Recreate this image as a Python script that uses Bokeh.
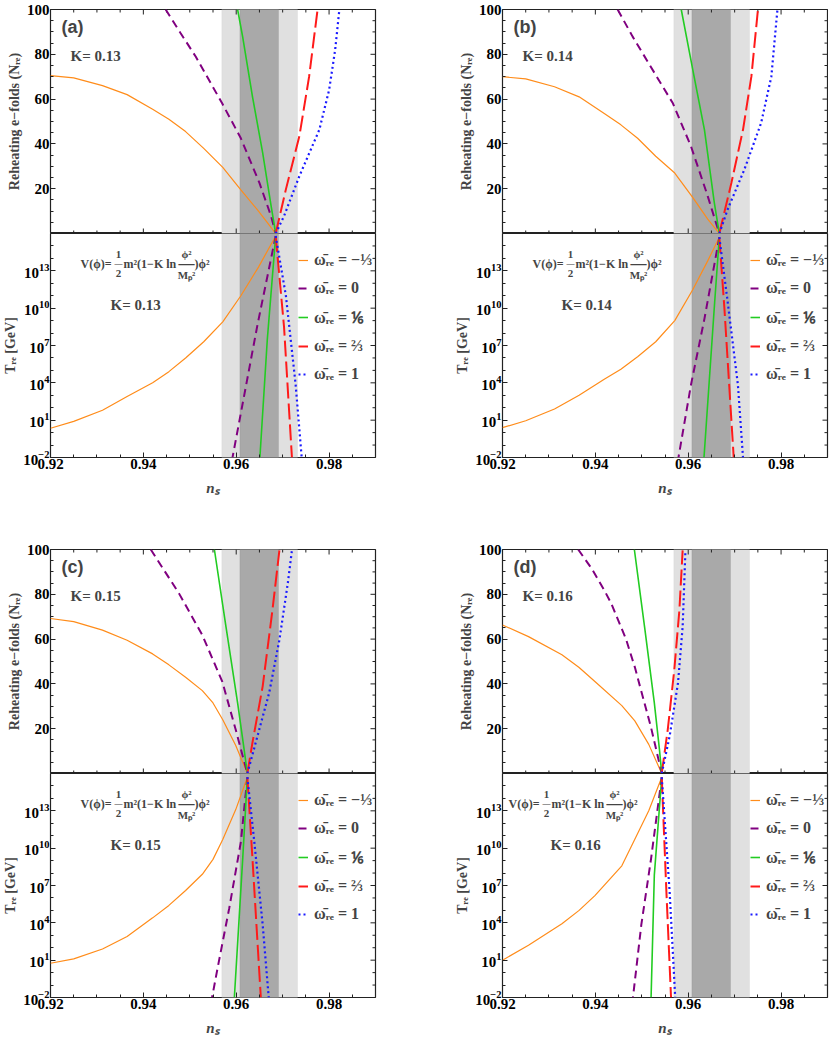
import math
import numpy as np
from bokeh.plotting import figure
from bokeh.layouts import gridplot
from bokeh.models import Range1d, FixedTicker, BoxAnnotation, Label, Legend, LegendItem
from bokeh.embed import file_html
from bokeh.resources import INLINE

# ---------------- data ----------------
NS_RANGE = (0.92, 0.99)
NRE_RANGE = (0, 100)
TRE_RANGE = (1e-2, 1e16)
NS_TICKS = [0.92, 0.94, 0.96, 0.98]
NS_MINOR = [0.925, 0.93, 0.935, 0.945, 0.95, 0.955, 0.965, 0.97, 0.975, 0.985]
NRE_TICKS = [20, 40, 60, 80, 100]
NRE_MINOR = [5, 10, 15, 25, 30, 35, 45, 50, 55, 65, 70, 75, 85, 90, 95]
TRE_TICK_EXP = [-2, 1, 4, 7, 10, 13]
TRE_MINOR_EXP = [-1, 0, 2, 3, 5, 6, 8, 9, 11, 12, 14, 15]

PLANCK_1SIGMA = (0.9608, 0.9691)
PLANCK_2SIGMA = (0.9569, 0.9732)

PANEL_TAGS = ["(a)", "(b)", "(c)", "(d)"]
K_VALUES = ["0.13", "0.14", "0.15", "0.16"]

W_LABELS = ["ω̄ᵣₑ = −⅓", "ω̄ᵣₑ = 0", "ω̄ᵣₑ = ⅙", "ω̄ᵣₑ = ⅔", "ω̄ᵣₑ = 1"]

# N_re(n_s) per panel: (n_s list, N_re list) for w = -1/3, 0, 1/6, 2/3, 1
A_NRE = [
    ([0.92, 0.925, 0.9312, 0.9365, 0.942, 0.9455, 0.9491, 0.953, 0.9571, 0.961, 0.9648, 0.9685],
     [70.5, 69.5, 66.0, 62.0, 55.5, 51.0, 45.5, 38.0, 29.5, 19.5, 10.0, 0]),
    ([0.9448, 0.948, 0.9513, 0.957, 0.961, 0.965, 0.9675, 0.9685], [100, 89.5, 78.9, 58.0, 42.5, 22.6, 7.8, 0]),
    ([0.9603, 0.9614, 0.9635, 0.9657, 0.9674, 0.9685], [100, 87.7, 61.1, 36.0, 13.8, 0]),
    ([0.9685, 0.9707, 0.9736, 0.9757, 0.9775], [0, 19.7, 43.4, 70.0, 99.6]),
    ([0.9685, 0.9703, 0.9736, 0.9779, 0.9800, 0.9813, 0.9822], [0, 7.8, 25.6, 46.3, 64.0, 81.8, 99.6]),
]
B_NRE = [
    ([0.92, 0.925, 0.9312, 0.9365, 0.942, 0.9455, 0.9491, 0.953, 0.9571, 0.961, 0.9642, 0.9667],
     [70.0, 69.0, 65.5, 61.0, 53.5, 48.5, 42.5, 34.5, 27.0, 16.0, 6.4, 0]),
    ([0.9448, 0.948, 0.9513, 0.9567, 0.9606, 0.9642, 0.9667], [100, 88.0, 76.6, 58.1, 38.9, 16.7, 0]),
    ([0.9585, 0.961, 0.9635, 0.9656, 0.9667], [100, 72.9, 46.3, 14.0, 0]),
    ([0.9667, 0.9693, 0.9718, 0.9736, 0.975], [0, 22.6, 46.3, 70.0, 99.6]),
    ([0.9667, 0.9685, 0.9721, 0.9757, 0.9779, 0.9792], [0, 10.8, 28.6, 49.3, 70.0, 99.6]),
]
C_NRE = [
    ([0.92, 0.925, 0.9312, 0.9365, 0.942, 0.9455, 0.9491, 0.9527, 0.955, 0.9571, 0.9599, 0.9624],
     [69.2, 67.8, 64.0, 59.5, 53.4, 48.5, 43.0, 37.0, 31.5, 24.0, 12.5, 0]),
    ([0.9416, 0.9477, 0.9527, 0.957, 0.9599, 0.9624], [100, 80.3, 61.8, 41.0, 19.5, 0]),
    ([0.9553, 0.9578, 0.9603, 0.9617, 0.9624], [100, 65.5, 31.5, 10.8, 0]),
    ([0.9624, 0.9635, 0.9657, 0.9678, 0.9693], [0, 13.8, 38.9, 72.9, 99.6]),
    ([0.9624, 0.9642, 0.9671, 0.9693, 0.9711, 0.972], [0, 13.8, 36.0, 59.6, 84.8, 99.6]),
]
D_NRE = [
    ([0.92, 0.9256, 0.9328, 0.9365, 0.9399, 0.9457, 0.9485, 0.9515, 0.9543],
     [66.3, 61.1, 53.0, 47.3, 41.1, 30.3, 23.5, 13.0, 0]),
    ([0.9363, 0.9392, 0.942, 0.9434, 0.9466, 0.9485, 0.952, 0.9543], [100, 91.5, 81.5, 76.0, 60.0, 47.5, 20.5, 0]),
    ([0.9484, 0.9506, 0.9527, 0.9538, 0.9543], [100, 65.5, 31.5, 10.8, 0]),
    ([0.9543, 0.9556, 0.957, 0.9581, 0.9588], [0, 19.7, 46.3, 72.9, 99.6]),
    ([0.9543, 0.956, 0.9578, 0.9588, 0.9594], [0, 16.7, 40.4, 65.5, 99.6]),
]

# log10 T_re(n_s) per panel: (n_s list, log10 T list)
A_TRE = [
    ([0.92, 0.925, 0.9312, 0.9365, 0.942, 0.9455, 0.9491, 0.953, 0.9571, 0.961, 0.9648, 0.9685],
     [0.35, 0.9, 1.8, 2.9, 4.0, 4.9, 6.0, 7.3, 8.9, 11.0, 13.3, 15.8]),
    ([0.9685, 0.9646, 0.9592], [15.8, 8.7, -2]),
    ([0.9685, 0.9667, 0.9651], [15.8, 7.5, -2]),
    ([0.9685, 0.9703, 0.972], [15.8, 8.5, -2]),
    ([0.9685, 0.9707, 0.9728, 0.9741], [15.8, 11.0, 3.85, -2]),
]
B_TRE = [
    ([0.92, 0.925, 0.9312, 0.9365, 0.942, 0.9455, 0.9491, 0.953, 0.9571, 0.961, 0.9642, 0.9667],
     [0.4, 0.95, 1.9, 3.0, 4.3, 5.1, 6.1, 7.3, 9.0, 11.5, 13.8, 15.7]),
    ([0.9667, 0.9635, 0.9606, 0.9579], [15.7, 9.16, 3.85, -2]),
    ([0.9667, 0.9657, 0.9634], [15.7, 10.5, -2]),
    ([0.9667, 0.9678, 0.9698], [15.7, 9.96, -2]),
    ([0.9667, 0.9685, 0.9707, 0.9718], [15.7, 10.5, 3.85, -2]),
]
C_TRE = [
    ([0.92, 0.925, 0.9312, 0.9365, 0.942, 0.9455, 0.9491, 0.9527, 0.955, 0.9571, 0.9599, 0.9624],
     [0.75, 1.1, 1.9, 2.9, 4.4, 5.4, 6.6, 7.9, 9.1, 10.7, 13.1, 15.7]),
    ([0.9624, 0.961, 0.9585, 0.956, 0.9548], [15.7, 10.5, 5.18, 0.39, -2]),
    ([0.9624, 0.9614, 0.9596], [15.7, 9.16, -2]),
    ([0.9624, 0.9635, 0.9653], [15.7, 9.16, -2]),
    ([0.9624, 0.9639, 0.9657, 0.967], [15.7, 10.5, 3.85, -2]),
]
D_TRE = [
    ([0.92, 0.9256, 0.9328, 0.9365, 0.9399, 0.9457, 0.9485, 0.9515, 0.9543],
     [1.0, 2.2, 3.93, 5.0, 6.19, 8.58, 10.71, 13.0, 15.7]),
    ([0.9543, 0.952, 0.9499, 0.9481], [15.7, 9.16, 3.85, -2]),
    ([0.9543, 0.9527, 0.952], [15.7, 7.83, -2]),
    ([0.9543, 0.9553, 0.9563], [15.7, 6.5, -2]),
    ([0.9543, 0.956, 0.9572], [15.7, 6.5, -2]),
]

# ---------------- styles ----------------
W_COLORS = ["#ff8c1a", "#800080", "#22cc22", "#ff1a1a", "#1a1aff"]
W_DASH = ["solid", "8 5", "solid", "16 5", "2 3"]
W_WIDTH = [1.2, 2.0, 1.6, 2.0, 2.2]
SERIF = "Liberation Serif"
SANS = "Liberation Sans"
FW, FH = 325, 224
OUT = "#222222"
PX_PER_NS = FW / (NS_RANGE[1] - NS_RANGE[0])
FORMULA_DX = [30, 30, 30, 6]
KBOT_DX = [60, 59, 60, 48]


def style_common(p):
    p.grid.visible = False
    p.outline_line_color = OUT
    p.outline_line_width = 1.2
    p.background_fill_color = "white"
    p.border_fill_color = "white"
    for lo, hi, col, edge in [(PLANCK_2SIGMA[0], PLANCK_2SIGMA[1], "#e0e0e0", "#cfcfcf"),
                              (PLANCK_1SIGMA[0], PLANCK_1SIGMA[1], "#a9a9a9", "#8f8f8f")]:
        p.add_layout(BoxAnnotation(left=lo, right=hi, fill_color=col, fill_alpha=1.0,
                                   line_color=edge, line_width=1, level="underlay"))


def axis_style(ax):
    ax.major_tick_in = 5
    ax.major_tick_out = 0
    ax.minor_tick_in = 3
    ax.minor_tick_out = 0
    ax.major_tick_line_color = OUT
    ax.minor_tick_line_color = OUT
    ax.axis_line_color = None
    ax.major_label_text_font = SERIF
    ax.major_label_text_font_style = "bold"
    ax.major_label_text_font_size = "15px"
    ax.major_label_text_color = "black"
    ax.major_label_standoff = 1
    ax.axis_label_text_font = SERIF
    ax.axis_label_text_font_style = "bold"
    ax.axis_label_text_font_size = "14px"
    ax.axis_label_standoff = 2


def mirror_ticks(p, xs, ys, angle, length):
    """inward tick marks on the frame edges without labels (Mathematica-style frame ticks)"""
    p.ray(x=xs, y=ys, length=length, angle=angle, length_units="screen",
          line_color=OUT, line_width=1)


def sx(dx):
    """screen offset from the frame's left edge -> n_s"""
    return NS_RANGE[0] + dx / PX_PER_NS


def make_top(idx, nre, mr, mt):
    p = figure(frame_width=FW, frame_height=FH, x_range=Range1d(*NS_RANGE),
               y_range=Range1d(*NRE_RANGE), output_backend="svg", toolbar_location=None,
               x_axis_location=None,
               min_border_left=42, min_border_right=mr, min_border_top=mt, min_border_bottom=0)
    style_common(p)
    p.yaxis.ticker = FixedTicker(ticks=NRE_TICKS, minor_ticks=NRE_MINOR)
    axis_style(p.yaxis[0])
    p.yaxis.axis_label = "Reheating e−folds (Nᵣₑ)"
    x1 = NS_RANGE[1]
    mirror_ticks(p, [x1] * len(NRE_TICKS), NRE_TICKS, math.pi, 5)
    mirror_ticks(p, [x1] * len(NRE_MINOR), NRE_MINOR, math.pi, 3)
    mirror_ticks(p, NS_TICKS, [NRE_RANGE[1]] * len(NS_TICKS), -math.pi / 2, 5)
    mirror_ticks(p, NS_MINOR, [NRE_RANGE[1]] * len(NS_MINOR), -math.pi / 2, 3)
    mirror_ticks(p, NS_TICKS, [NRE_RANGE[0]] * len(NS_TICKS), math.pi / 2, 5)
    mirror_ticks(p, NS_MINOR, [NRE_RANGE[0]] * len(NS_MINOR), math.pi / 2, 3)
    for (xs, ys), c, d, w in zip(nre, W_COLORS, W_DASH, W_WIDTH):
        p.line(xs, ys, line_color=c, line_dash=d, line_width=w)
    p.add_layout(Label(x=sx(11), y=92, text=PANEL_TAGS[idx], text_font=SANS,
                       text_font_style="bold", text_font_size="18px", text_baseline="middle"))
    p.add_layout(Label(x=sx(20), y=79.2, text="K= " + K_VALUES[idx], text_font=SERIF,
                       text_font_style="bold", text_font_size="15px", text_baseline="middle"))
    return p


def add_formula(p, dx0):
    def lab(dx, ly, t, align="left", size="12px"):
        p.add_layout(Label(x=sx(dx0 + dx), y=10 ** ly, text=t, text_font=SERIF,
                           text_font_style="bold", text_font_size=size,
                           text_align=align, text_baseline="middle"))
    lab(0, 13.55, "V(ϕ)=")
    lab(38, 14.3, "1", "center", "11px")
    lab(38, 13.62, "—", "center", "8px")
    lab(38, 12.75, "2", "center", "11px")
    lab(43, 13.55, "m²(1−K ln")
    lab(106, 14.35, "ϕ²", "center", "11px")
    lab(106, 13.62, "—", "center", "16px")
    lab(106, 12.7, "Mₚ²", "center", "11px")
    lab(114, 13.55, ")ϕ²")


def make_bot(idx, tre, mr, mb):
    p = figure(frame_width=FW, frame_height=FH, x_range=Range1d(*NS_RANGE),
               y_range=Range1d(*TRE_RANGE), y_axis_type="log", output_backend="svg",
               toolbar_location=None, min_border_left=42, min_border_right=mr,
               min_border_top=0, min_border_bottom=mb)
    style_common(p)
    p.xaxis.ticker = FixedTicker(ticks=NS_TICKS, minor_ticks=NS_MINOR)
    axis_style(p.xaxis[0])
    p.xaxis.axis_label = "nₛ"
    p.xaxis.axis_label_text_font_style = "bold italic"
    p.xaxis.axis_label_text_font_size = "15px"
    p.xaxis.axis_label_standoff = 8
    maj = [10.0 ** e for e in TRE_TICK_EXP]
    mnr = [10.0 ** e for e in TRE_MINOR_EXP]
    p.yaxis.ticker = FixedTicker(ticks=maj, minor_ticks=mnr)
    axis_style(p.yaxis[0])
    p.yaxis.axis_label = "Tᵣₑ [GeV]"
    x1 = NS_RANGE[1]
    mirror_ticks(p, [x1] * len(maj), maj, math.pi, 5)
    mirror_ticks(p, [x1] * len(mnr), mnr, math.pi, 3)
    items = []
    for (xs, ls), c, d, w, lbl in zip(tre, W_COLORS, W_DASH, W_WIDTH, W_LABELS):
        r = p.line(xs, [10.0 ** v for v in ls], line_color=c, line_dash=d, line_width=w)
        items.append(LegendItem(label=lbl, renderers=[r]))
    leg = Legend(items=items, location=(248, 73), background_fill_alpha=0,
                 border_line_color=None, padding=0, margin=0, spacing=8,
                 glyph_width=10, glyph_height=20, label_height=20, label_standoff=6,
                 label_text_font=SERIF, label_text_font_style="bold",
                 label_text_font_size="16px")
    p.add_layout(leg)
    add_formula(p, FORMULA_DX[idx])
    p.add_layout(Label(x=sx(KBOT_DX[idx]), y=10 ** 10.26, text="K= " + K_VALUES[idx],
                       text_font=SERIF, text_font_style="bold", text_font_size="15px",
                       text_baseline="middle"))
    return p


NRES = [A_NRE, B_NRE, C_NRE, D_NRE]
TRES = [A_TRE, B_TRE, C_TRE, D_TRE]
MR = [77, 4, 77, 4]
MT = [9, 9, 50, 50]

figs = []
for i in range(4):
    figs.append((make_top(i, NRES[i], MR[i], MT[i]), make_bot(i, TRES[i], MR[i], 42)))

grid = gridplot([[figs[0][0], figs[1][0]], [figs[0][1], figs[1][1]],
                 [figs[2][0], figs[3][0]], [figs[2][1], figs[3][1]]],
                toolbar_location=None, merge_tools=False)

open("out.html", "w").write(file_html(grid, INLINE))
